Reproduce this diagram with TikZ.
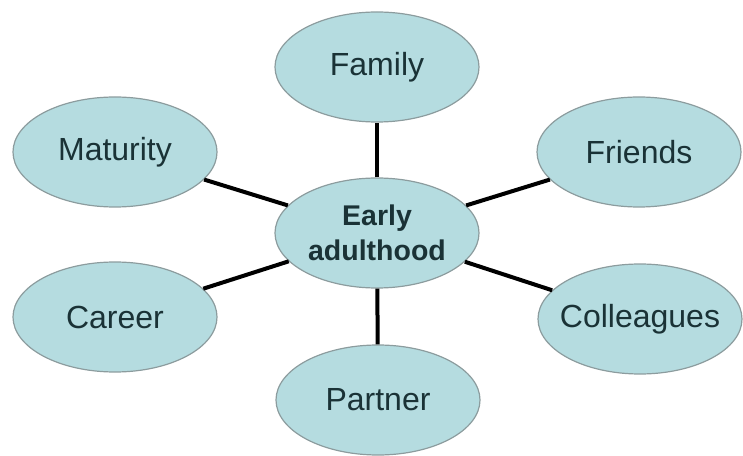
\documentclass[tikz,border=0pt]{standalone}
\usepackage{fontspec}
\setmainfont{Liberation Sans}
\usetikzlibrary{shapes.geometric}
\definecolor{bubblefill}{HTML}{B5DCE0}
\definecolor{bubbleline}{HTML}{8C9C9E}
\definecolor{bubbletext}{HTML}{1A3236}
\newcommand{\fixw}[1]{\makebox[0pt]{#1}}
\tikzset{
  bubble/.style={ellipse, draw=bubbleline, line width=1.2pt, fill=bubblefill,
    minimum width=204pt, minimum height=110pt, inner sep=0pt,
    text=bubbletext, font=\fontsize{32}{36}\selectfont},
  hub/.style={bubble, font=\bfseries\fontsize{28.5}{35}\selectfont, align=center},
  spoke/.style={draw=black, line width=4pt}
}
\begin{document}
\begin{tikzpicture}[x=1pt,y=1pt]
\useasboundingbox (0,0) rectangle (743,455);
\node[hub] (c) at (377,222) {Early\\adulthood};
\node[bubble] (fam) at (377,388) {\fixw{Family}};
\node[bubble] (mat) at (115,303) {\fixw{Maturity}};
\node[bubble] (fri) at (639,303) {\fixw{Friends}};
\node[bubble] (car) at (115,138) {\fixw{Career}};
\node[bubble] (col) at (640,136) {\fixw{Colleagues}};
\node[bubble] (par) at (378,55) {\fixw{Partner}};
\draw[spoke] (c) -- (fam);
\draw[spoke] (c) -- (mat);
\draw[spoke] (c) -- (fri);
\draw[spoke] (c) -- (car);
\draw[spoke] (c) -- (col);
\draw[spoke] (c) -- (par);
\end{tikzpicture}
\end{document}
